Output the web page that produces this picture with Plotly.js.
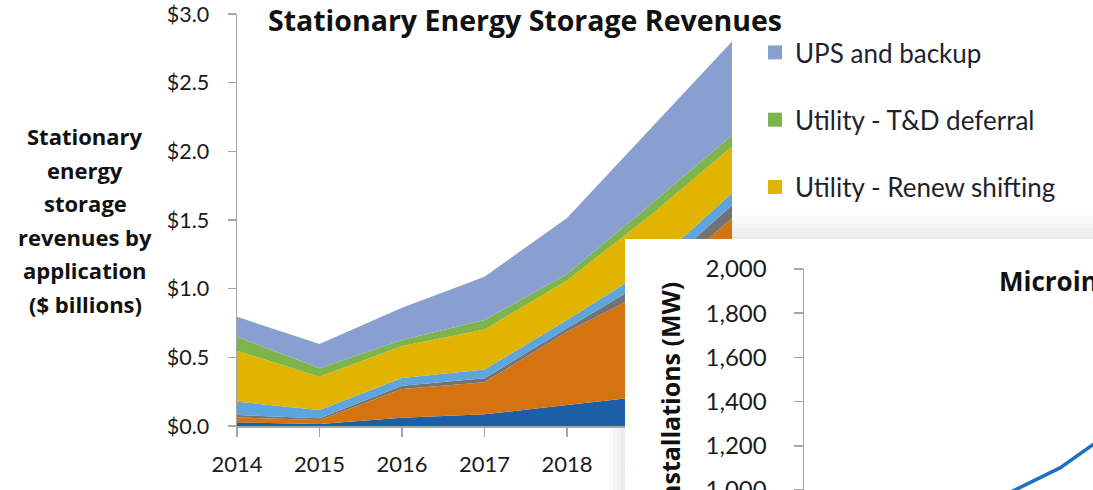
<!DOCTYPE html>
<html><head><meta charset="utf-8">
<script src="https://cdn.plot.ly/plotly-3.0.1.min.js"></script>
<style>html,body{margin:0;padding:0;background:#fff;overflow:hidden}#chart{width:1093px;height:490px}</style>
</head><body><div id="chart"></div>
<script>
// ---- Data: Stationary energy storage revenues ($ billions), stacked bottom -> top
const years = [2014, 2015, 2016, 2017, 2018, 2019, 2020];
const yearLabels = ['2014', '2015', '2016', '2017', '2018', '2019', ''];
const residential   = [0.027, 0.015, 0.060, 0.085, 0.153, 0.220, 0.300];
const commercial    = [0.036, 0.029, 0.210, 0.233, 0.533, 0.770, 1.215];
const utilCapacity  = [0.017, 0.012, 0.023, 0.029, 0.025, 0.080, 0.093];
const utilAncillary = [0.097, 0.060, 0.056, 0.065, 0.060, 0.080, 0.088];
const utilRenew     = [0.371, 0.243, 0.233, 0.291, 0.289, 0.380, 0.339];
const utilTD        = [0.102, 0.061, 0.044, 0.068, 0.047, 0.075, 0.083];
const upsBackup     = [0.145, 0.177, 0.235, 0.316, 0.408, 0.555, 0.682];
const seriesNames = ['Residential', 'Commercial & industrial', 'Utility - Capacity',
  'Utility - Ancillary services', 'Utility - Renew shifting', 'Utility - T&D deferral', 'UPS and backup'];
const legendNames = ['UPS and backup', 'Utility - T&D deferral', 'Utility - Renew shifting'];
const revTicks = [0, 0.5, 1.0, 1.5, 2.0, 2.5, 3.0];
const revTickLabels = ['$0.0', '$0.5', '$1.0', '$1.5', '$2.0', '$2.5', '$3.0'];
const yTitleLines = ['Stationary', 'energy', 'storage', 'revenues by', 'application', '($ billions)'];
const mainTitle = 'Stationary Energy Storage Revenues';

// ---- Data: overlapping second chart (microinverter installations, MW)
const mgYears  = [2013, 2014, 2015, 2016, 2017, 2018, 2019, 2020];
const mgValues = [560, 700, 830, 967, 1100, 1291, 1530, 1820];
const mgTicks  = [1000, 1200, 1400, 1600, 1800, 2000];
const mgTickLabels = ['1,000', '1,200', '1,400', '1,600', '1,800', '2,000'];
const mgTitle  = 'Microinverter Installations';
const mgYTitle = 'Microinverter Installations (MW)';

// ---- Styles
const colors = ['#1c5fa6', '#d57311', '#737373', '#5fa5dd', '#e1b400', '#7db54a', '#889fcf'];
const W = 1093, H = 490;
const px = v => v / W, py = v => (H - v) / H;
const FONT = 'Lato, "Open Sans", sans-serif';
const WIDE = '"Open Sans", Lato, sans-serif';
const axisGrey = '#a6a6a6';

const stackValues = [residential, commercial, utilCapacity, utilAncillary, utilRenew, utilTD, upsBackup];
const traces = stackValues.map((vals, i) => ({
  type: 'scatter', mode: 'lines', x: years, y: vals, name: seriesNames[i],
  stackgroup: 'rev', line: {width: 0}, fillcolor: colors[i],
  legendgroup: seriesNames[i], showlegend: false, hoverinfo: 'x+y+name'
}));
// legend swatches (square markers) for the visible legend entries
legendNames.forEach(nm => {
  const idx = seriesNames.indexOf(nm);
  traces.push({type: 'scatter', mode: 'markers', x: [null], y: [null], name: nm,
    legendgroup: nm, showlegend: true,
    marker: {symbol: 'square', size: 14, color: colors[idx]}});
});
// white backing panel of the overlapping chart
traces.push({type: 'scatter', mode: 'lines', x: [], y: [], xaxis: 'x2', yaxis: 'y2',
  showlegend: false, hoverinfo: 'skip'});
// microinverter line
traces.push({type: 'scatter', mode: 'lines', x: mgYears, y: mgValues, xaxis: 'x3', yaxis: 'y3',
  name: 'Installations', showlegend: false, line: {color: '#1f6fc4', width: 3.5}});

// shadow strips around the overlapping panel
const shapes = [];
const topShade = ['#fdfdfd', '#fafafa', '#f7f7f7', '#f4f4f4', '#f1f1f1', '#eeeeee', '#ebebeb'];
topShade.forEach((c, i) => shapes.push({type: 'rect', xref: 'paper', yref: 'paper', layer: 'below',
  x0: px(625), x1: px(W), y0: py(212 + i * 3.9), y1: py(212 + (i + 1) * 3.9),
  fillcolor: c, line: {width: 0}}));
const leftShade = ['#fbfbfb', '#f6f6f6', '#f1f1f1', '#ececec'];
leftShade.forEach((c, i) => shapes.push({type: 'rect', xref: 'paper', yref: 'paper', layer: 'below',
  x0: px(609 + i * 4), x1: px(613 + i * 4 + 0.5), y0: py(H), y1: py(427),
  fillcolor: c, line: {width: 0}}));

const annotations = yTitleLines.map((t, i) => ({
  text: t, xref: 'paper', yref: 'paper', x: px(85), y: py(136 + i * 33.6),
  xanchor: 'center', yanchor: 'middle', showarrow: false,
  font: {family: WIDE, size: 22, color: '#111', weight: 'bold'}
}));
annotations.push({text: mgTitle, xref: 'paper', yref: 'paper', x: px(997), y: py(281),
  xanchor: 'left', yanchor: 'middle', showarrow: false,
  font: {family: WIDE, size: 26, color: '#111', weight: 'bold'}});
annotations.push({text: mgYTitle, xref: 'paper', yref: 'paper', x: px(670), y: py(280),
  xanchor: 'center', yanchor: 'top', textangle: -90, showarrow: false,
  font: {family: WIDE, size: 25, color: '#111', weight: 'bold'}});

const layout = {
  width: W, height: H, autosize: false,
  margin: {l: 0, r: 0, t: 0, b: 0, pad: 0},
  paper_bgcolor: '#ffffff', plot_bgcolor: '#ffffff',
  showlegend: true,
  title: {text: mainTitle, x: px(525), xanchor: 'center', xref: 'paper',
    y: 1 - 21 / H, yanchor: 'middle', yref: 'container',
    font: {family: WIDE, size: 28.5, color: '#111', weight: 'bold'}},
  xaxis: {domain: [px(237), px(732)], range: [2014, 2020], anchor: 'y',
    tickmode: 'array', tickvals: years, ticktext: yearLabels,
    ticks: 'outside', ticklen: 9, tickwidth: 1.5, tickcolor: axisGrey,
    showline: true, linecolor: axisGrey, linewidth: 1.5,
    showgrid: false, zeroline: false, ticklabelstandoff: 9, ticklabeloverflow: 'allow',
    tickfont: {family: FONT, size: 22, color: '#1a1a1a'}},
  yaxis: {domain: [py(426), py(14)], range: [0, 3], anchor: 'x',
    tickmode: 'array', tickvals: revTicks, ticktext: revTickLabels,
    ticks: 'outside', ticklen: 8, tickwidth: 1.5, tickcolor: axisGrey,
    showline: true, linecolor: axisGrey, linewidth: 1.5,
    showgrid: false, zeroline: false, ticklabelstandoff: 14, ticklabeloverflow: 'allow',
    tickfont: {family: FONT, size: 21.5, color: '#1a1a1a'}},
  xaxis2: {domain: [px(625), 1], range: [0, 1], anchor: 'y2', visible: false, fixedrange: true},
  yaxis2: {domain: [0, py(239)], range: [0, 1], anchor: 'x2', visible: false, fixedrange: true},
  xaxis3: {domain: [px(804), 1], range: [2012.733, 2017.55], anchor: 'y3', visible: false},
  yaxis3: {domain: [0, py(269)], range: [1000, 2000], anchor: 'x3',
    tickmode: 'array', tickvals: mgTicks, ticktext: mgTickLabels,
    ticks: 'outside', ticklen: 9, tickwidth: 1.5, tickcolor: axisGrey,
    showline: true, linecolor: axisGrey, linewidth: 1.5,
    showgrid: false, zeroline: false, ticklabelstandoff: 22, ticklabeloverflow: 'allow',
    tickfont: {family: FONT, size: 24, color: '#1a1a1a'}},
  legend: {x: px(755), y: py(29), xanchor: 'left', yanchor: 'top',
    traceorder: 'grouped', tracegroupgap: 30.5, bgcolor: 'rgba(0,0,0,0)',
    font: {family: FONT, size: 26, color: '#1f1f2f'}},
  shapes: shapes,
  annotations: annotations
};

Plotly.newPlot('chart', traces, layout, {displayModeBar: false, staticPlot: true});
</script>
</body></html>
